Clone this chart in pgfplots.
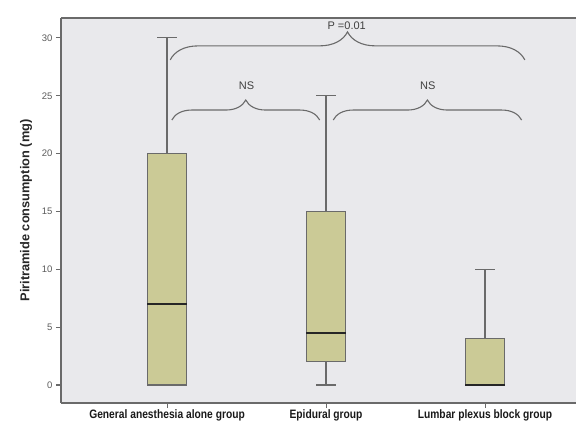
\documentclass[border=0pt]{standalone}
\usepackage{pgfplots}
\pgfplotsset{compat=1.18}
\usepgfplotslibrary{statistics}
\usetikzlibrary{decorations.pathreplacing}
\usepackage{fontspec}
\setmainfont{Liberation Sans}
\newfontfamily\narrowfont[FakeStretch=0.84]{Liberation Sans}

\definecolor{panelbg}{HTML}{E9E9EC}
\definecolor{boxfill}{HTML}{CBCA96}
\definecolor{framegray}{HTML}{6A6A6A}
\definecolor{ticktext}{HTML}{5A5A5A}

\begin{document}
\begin{tikzpicture}
\begin{axis}[
  name=ax,
  scale only axis,
  width=515pt, height=385pt,
  xmin=-0.667, xmax=2.572,
  ymin=-1.56, ymax=31.72,
  axis background/.style={fill=panelbg},
  axis x line*=bottom, axis y line*=left,
  axis line style={framegray, line width=1.1pt, -},
  xtick={0,1,2},
  xticklabels={General anesthesia alone group, Epidural group, Lumbar plexus block group},
  x tick label style={font=\narrowfont\bfseries\fontsize{12.2}{13}\selectfont, text=black!90, yshift=2pt},
  ytick={0,5,...,30},
  y tick label style={font=\fontsize{9.5}{11}\selectfont, text=ticktext},
  /pgf/number format/assume math mode=true,
  tick style={framegray, line width=1.1pt},
  tickwidth=5pt,
  xtick align=outside, ytick align=outside,
  ylabel={Piritramide consumption (mg)},
  ylabel style={font=\bfseries\fontsize{12.8}{14}\selectfont, text=black!85, yshift=3pt},
  boxplot/draw direction=y,
  boxplot/box extend=0.25,
  boxplot/whisker extend=0.126,
  boxplot/every box/.style={fill=boxfill, draw=framegray, line width=1.1pt},
  boxplot/every whisker/.style={draw=framegray, line width=1.2pt},
  boxplot/every median/.style={draw=black!85, line width=1.8pt},
  clip=false,
]
% General anesthesia alone group
\addplot[boxplot prepared={draw position=0,
  lower whisker=0, lower quartile=0, median=7,
  upper quartile=20, upper whisker=30}] coordinates {};
% Epidural group
\addplot[boxplot prepared={draw position=1,
  lower whisker=0, lower quartile=2, median=4.5,
  upper quartile=15, upper whisker=25}] coordinates {};
% Lumbar plexus block group
\addplot[boxplot prepared={draw position=2,
  lower whisker=0, lower quartile=0, median=0,
  upper quartile=4, upper whisker=10}] coordinates {};

% top edge of the frame
\draw[framegray, line width=1.1pt] (rel axis cs:0,1) -- (rel axis cs:1,1);

% significance brackets
\draw[framegray, line width=1.1pt, decorate, decoration={brace, amplitude=28pt}]
  (axis cs:0.02,28.1) -- (axis cs:2.25,28.1);
\draw[framegray, line width=1.1pt, decorate, decoration={brace, amplitude=20pt}]
  (axis cs:0.03,22.9) -- (axis cs:0.96,22.9);
\draw[framegray, line width=1.1pt, decorate, decoration={brace, amplitude=20pt}]
  (axis cs:1.045,22.9) -- (axis cs:2.23,22.9);
\node[font=\fontsize{11}{12}\selectfont, text=black!75] at (axis cs:1.13,31.05) {P =0.01};
\node[font=\fontsize{11}{12}\selectfont, text=black!75] at (axis cs:0.5,25.9) {NS};
\node[font=\fontsize{11}{12}\selectfont, text=black!75] at (axis cs:1.64,25.9) {NS};
\end{axis}
\pgfresetboundingbox
\useasboundingbox ([xshift=-61pt,yshift=-23pt]ax.south west) rectangle ([yshift=18pt]ax.north east);
\end{tikzpicture}
\end{document}
